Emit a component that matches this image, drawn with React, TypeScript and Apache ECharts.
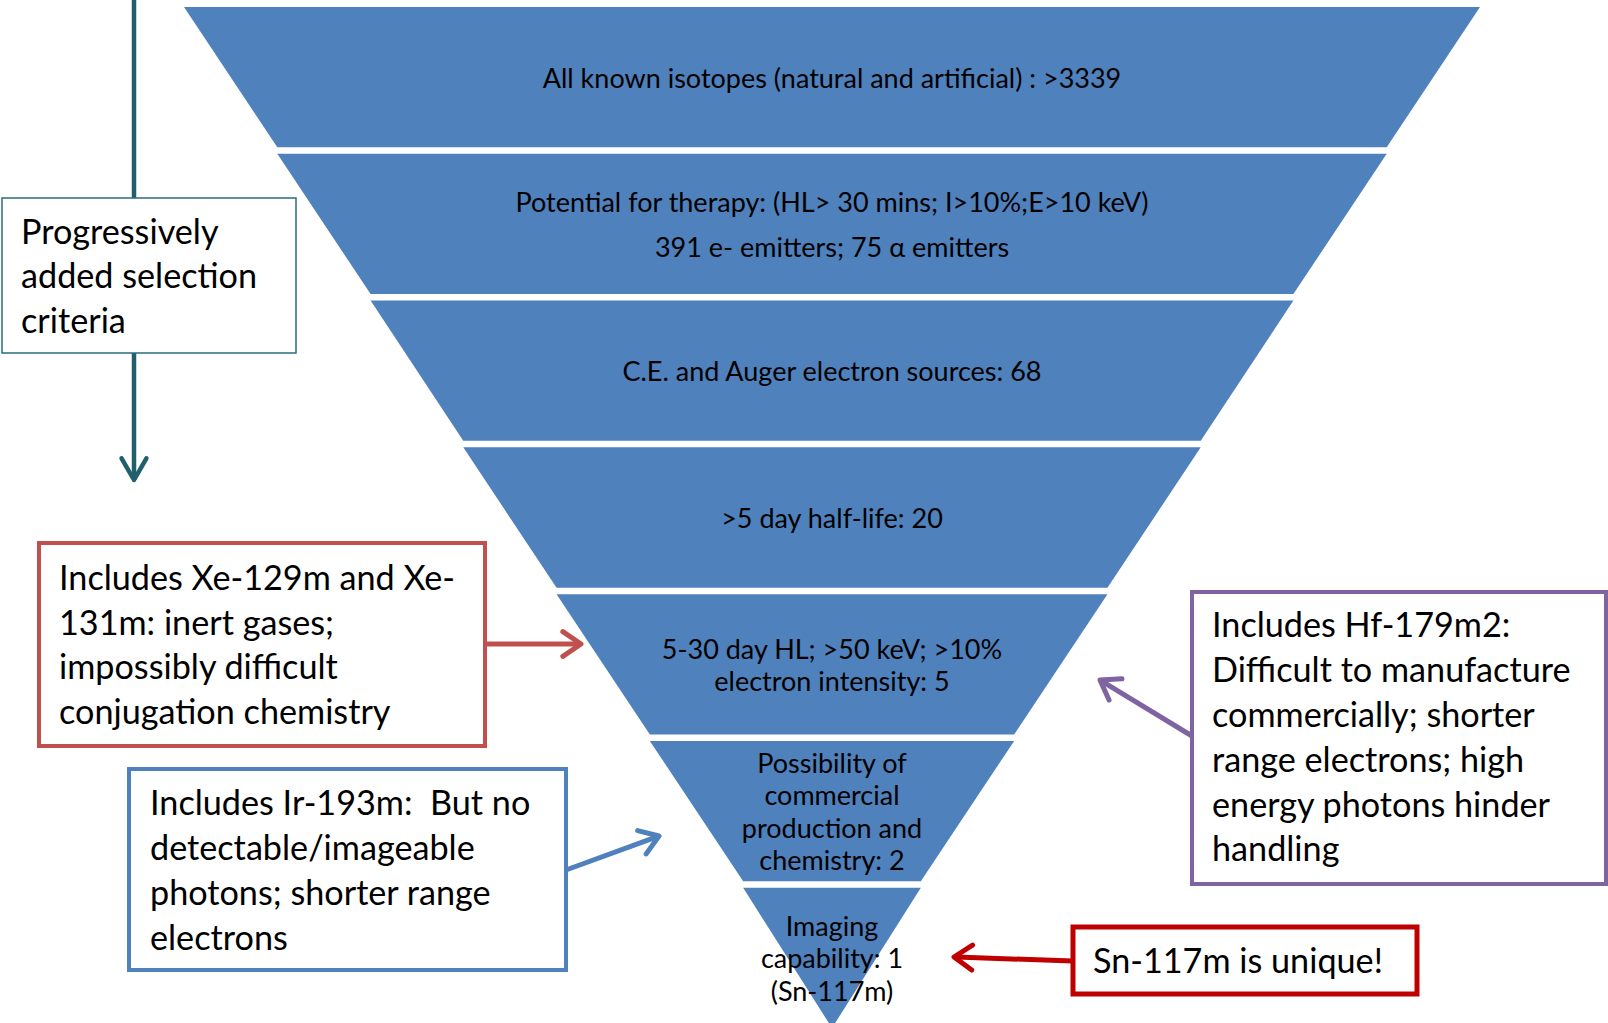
import React, { useEffect, useRef } from "react";
import * as echarts from "echarts";

// Funnel stages (top to bottom)
const stageLabels = [
  "All known isotopes (natural and artificial) : >3339",
  "Potential for therapy: (HL> 30 mins; I>10%;E>10 keV)\n391 e- emitters; 75 α emitters",
  "C.E. and Auger electron sources: 68",
  ">5 day half-life: 20",
  "5-30 day HL; >50 keV; >10%\nelectron intensity: 5",
  "Possibility of\ncommercial\nproduction and\nchemistry: 2",
  "Imaging\ncapability: 1\n(Sn-117m)",
];
// relative top width of each stage
const stageWidths = [1021, 874, 727, 581, 434, 287, 140];

// Annotation texts
const criteriaNote = ["Progressively", "added selection", "criteria"];
const xenonNote = [
  "Includes Xe-129m and Xe-",
  "131m: inert gases;",
  "impossibly difficult",
  "conjugation chemistry",
];
const iridiumNote = [
  "Includes Ir-193m:  But no",
  "detectable/imageable",
  "photons; shorter range",
  "electrons",
];
const hafniumNote = [
  "Includes Hf-179m2:",
  "Difficult to manufacture",
  "commercially; shorter",
  "range electrons; high",
  "energy photons hinder",
  "handling",
];
const tinNote = ["Sn-117m is unique!"];

const FONT = "Lato";
const BOX_FONT = 34.2;

function arrow(
  x1: number,
  y1: number,
  x2: number,
  y2: number,
  color: string,
  width: number,
  head = 22,
  angle = 0.6
) {
  const a = Math.atan2(y2 - y1, x2 - x1);
  const p1 = [x2 - head * Math.cos(a - angle), y2 - head * Math.sin(a - angle)];
  const p2 = [x2 - head * Math.cos(a + angle), y2 - head * Math.sin(a + angle)];
  const ex = x2 - (width / 2) * Math.cos(a);
  const ey = y2 - (width / 2) * Math.sin(a);
  return [
    {
      type: "line",
      shape: { x1, y1, x2: ex, y2: ey },
      style: { stroke: color, lineWidth: width, lineCap: "round" },
      z: 10,
    },
    {
      type: "polyline",
      shape: { points: [p1, [x2, y2], p2] },
      style: { stroke: color, lineWidth: width, lineCap: "round", lineJoin: "round", fill: null },
      z: 10,
    },
  ];
}

function box(
  x: number,
  y: number,
  w: number,
  h: number,
  color: string,
  lw: number,
  lines: string[],
  tx: number,
  ty: number,
  lh: number
) {
  return [
    {
      type: "rect",
      shape: { x, y, width: w, height: h },
      style: { fill: "#ffffff", stroke: color, lineWidth: lw },
      z: 11,
    },
    {
      type: "text",
      x: tx,
      y: ty,
      style: {
        text: lines.join("\n"),
        fill: "#000000",
        fontFamily: FONT,
        fontSize: BOX_FONT,
        lineHeight: lh,
        align: "left",
        verticalAlign: "top",
      },
      z: 12,
    },
  ];
}

export default function App() {
  const ref = useRef<HTMLDivElement>(null);

  useEffect(() => {
    if (!ref.current) return;
    const chart = echarts.init(ref.current, undefined, { renderer: "svg" });

    const graphics: any[] = [
      // teal progression arrow
      ...arrow(134, -5, 134, 480, "#225f6c", 4.5, 25, 0.52),
      ...box(2, 198, 294, 155, "#2b6e7c", 1.5, criteriaNote, 21, 208, 44.5),
      // red
      ...box(39, 543, 446, 203, "#c0504d", 4, xenonNote, 59, 554, 44.7),
      ...arrow(485, 644, 581, 644, "#c0504d", 5),
      // blue
      ...box(129, 769, 437, 201, "#4f81bd", 4, iridiumNote, 150, 778.5, 45),
      ...arrow(566, 870, 659, 836, "#4f81bd", 5),
      // purple
      ...box(1192, 592, 414, 292, "#8064a2", 4, hafniumNote, 1212, 601, 44.9),
      ...arrow(1192, 736, 1100, 680, "#8064a2", 5),
      // dark red
      ...box(1073, 927, 344, 67, "#c00000", 5, tinNote, 1093, 937, 45),
      ...arrow(1073, 961, 954, 957, "#c00000", 5),
    ];

    chart.setOption({
      animation: false,
      backgroundColor: "#ffffff",
      series: [
        {
          type: "funnel",
          left: 184,
          top: 7,
          width: 1296,
          height: 1021,
          gap: 6.5,
          min: 0,
          max: 1021,
          minSize: "0%",
          maxSize: "100%",
          sort: "none",
          itemStyle: { color: "#4f81bd", borderWidth: 0 },
          label: {
            show: true,
            position: "inside",
            formatter: "{b}",
            color: "#000000",
            fontFamily: FONT,
            fontSize: 27,
            lineHeight: 32.5,
          },
          labelLine: { show: false },
          emphasis: { disabled: true },
          data: stageLabels.map((name, i) => ({
            name,
            value: stageWidths[i],
            label: i === 1 ? { lineHeight: 45 } : undefined,
          })),
        },
      ],
      graphic: { elements: graphics },
    });

    return () => chart.dispose();
  }, []);

  return (
    <div
      ref={ref}
      style={{ position: "fixed", left: 0, top: 0, width: 1608, height: 1023, background: "#fff" }}
    />
  );
}
